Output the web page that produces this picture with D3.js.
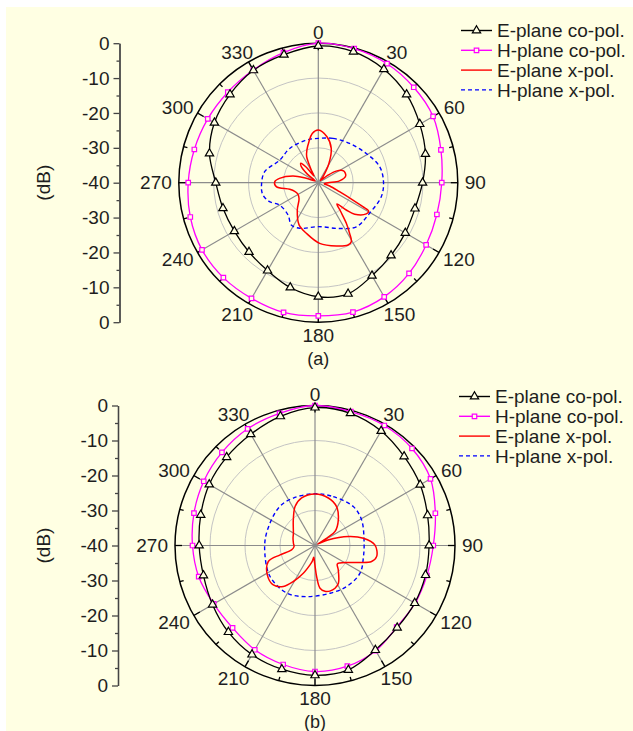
<!DOCTYPE html>
<html><head><meta charset="utf-8">
<script src="https://cdn.jsdelivr.net/npm/d3@7"></script>
<style>
body{margin:0;background:#fff}
svg{display:block}
text{font-family:"Liberation Sans",Arial,Helvetica,sans-serif}
</style>
</head><body>
<svg id="chart" width="633" height="731"></svg>
<script>
// ---------- data ----------
const coAngles = [0,15,30,45,60,75,90,105,120,135,150,165,180,195,210,225,240,255,270,285,300,315,330,345];

// panel (a)
const aEco = [-0.8,-1.1,-2.4,-4.2,-6.4,-8.2,-10.1,-11.3,-11.2,-10.5,-9.2,-7.0,-7.3,-8.9,-10.9,-11.9,-12.2,-11.7,-10.6,-7.7,-5.6,-4.2,-2.8,-2.0];
const aHco = [0,-0.2,-0.6,-1.3,-2.0,-3.6,-4.6,-4.8,-4.3,-3.2,-2.2,-1.6,-1.8,-1.5,-1.7,-1.5,-1.5,-2.0,-2.7,-3.2,-3.4,-3.3,-2.7,-1.4];
const aExAngles = [0,10.7,20.7,28.9,38,45,52,57,65,76,85,90,100,106,113,116.6,118.3,119.5,123,130.8,134.3,138.8,142,145.4,148.3,150.8,154.5,164,178.7,193.3,204.5,217.5,230,240.9,250,256.9,264.6,271.3,276.4,284.7,290,300,308,314,318,322,327,331,336,341,347,353];
const aExVals = [-24.9,-26.6,-29.5,-33.7,-37.8,-39.1,-36.6,-33.9,-32.0,-31.9,-33.9,-37.2,-38.3,-36.6,-33.4,-28.9,-25.5,-23.4,-23.6,-26.2,-28.8,-31.9,-29.7,-25.8,-22.9,-20.6,-20.2,-21.1,-22.6,-25.1,-26.7,-30.1,-32.8,-33.3,-32.8,-31.6,-27.9,-27.5,-28.8,-32.5,-36.3,-38.9,-36.0,-33.1,-32.5,-34.3,-37.7,-36.0,-31.8,-30.0,-28.0,-25.8];
const aHxAngles = [0,18.3,38.5,58.6,75.4,89.4,102.5,120.9,139.2,155,180,202,212.5,223,240,248.7,258,267.7,281.6,300.4,320.1,344.3];
const aHxVals = [-27.3,-26.6,-25.6,-23.9,-21.8,-21.3,-21.5,-22.9,-23.3,-25.5,-27.4,-25.9,-25.6,-27.3,-27.2,-25.0,-23.7,-23.7,-24.3,-27.2,-27.2,-27.3];

// panel (b)
const bEco = [-0.6,-0.9,-2.2,-4.0,-5.3,-6.7,-7.4,-7.3,-7.1,-6.8,-5.5,-3.2,-2.9,-3.4,-4.0,-5.0,-6.2,-7.0,-6.9,-6.2,-5.1,-4.3,-3.3,-1.8];
const bHco = [0,-0.4,-0.4,-0.8,-1.9,-4.4,-6.2,-6.9,-7.0,-7.0,-5.3,-4.3,-4.0,-4.8,-5.6,-6.7,-6.6,-5.6,-5.0,-4.2,-3.3,-2.4,-1.5,-0.9];
const bExAngles = [0,15.7,29,42.3,55,58,62,67,74.9,81.4,89.4,100,105.8,112,118,125,130,136.2,148.2,154.9,162,167.7,173.3,177,181,186,190,194.5,202.9,211,217.7,226.6,238.4,251.1,255,259.5,267,276,288,299.6,310,319.8,332.9,344.3];
const bExVals = [-25.3,-25.9,-27.3,-30.1,-33.0,-36.0,-39.1,-36.0,-30.1,-26.0,-22.9,-22.1,-23.2,-27.1,-29.7,-31.3,-31.7,-30.4,-27.3,-26.5,-26.3,-26.6,-27.7,-31.1,-34.9,-36.6,-35.4,-34.3,-31.4,-28.0,-25.2,-23.6,-24.0,-25.9,-29.7,-33.2,-34.0,-33.8,-33.4,-32.9,-31.9,-30.4,-27.5,-25.9];
const bHxAngles = [0,20.5,44.5,61.2,83.4,102.8,121.6,142.3,162.5,189.3,210.7,235.4,261.3,284.3,317,335.4];
const bHxVals = [-25.2,-25.1,-24.4,-24.8,-25.9,-25.8,-24.9,-25.2,-25.7,-25.2,-24.2,-24.4,-25.5,-25.7,-25.0,-25.1];

const angleLabels = [0,30,60,90,120,150,180,210,240,270,300,330];
const tickAngles = [0,15,30,45,60,75,90,105,120,135,150,165,180,195,210,225,240,255,270,285,300,315,330,345];
const gridLevels = [-10,-20,-30];
const dbMajor = [40,30,20,10,0,-10,-20,-30,-40];   // signed position along the vertical axis
const dbMinor = [35,25,15,5,-5,-15,-25,-35];
const seriesNames = ["E-plane co-pol.","H-plane co-pol.","E-plane x-pol.","H-plane x-pol."];
const captions = ["(a)","(b)"];

// ---------- layout / style ----------
const BG = "#FFFFE3";
const TXT = "#1e1e1e";
const FS = 19;
const panels = [
  {cx:318.3, cy:182.7, R:139.5, axisX:119.5, capY:358.5, legX:461, legY:30.5,
   eco:aEco, hco:aHco, exA:aExAngles, exV:aExVals, hxA:aHxAngles, hxV:aHxVals, cap:captions[0]},
  {cx:315, cy:545.5, R:140, axisX:118, capY:721.5, legX:459, legY:396.5,
   eco:bEco, hco:bHco, exA:bExAngles, exV:bExVals, hxA:bHxAngles, hxV:bHxVals, cap:captions[1]}
];

const svg = d3.select("#chart");
svg.append("rect").attr("x",6).attr("y",7).attr("width",633-6).attr("height",731-7).attr("fill",BG);

const rad = d => d*Math.PI/180;

function drawPanel(P){
  const g = svg.append("g");
  const r = d3.scaleLinear().domain([-40,0]).range([0,P.R]).clamp(true);
  const c = g.append("g").attr("transform",`translate(${P.cx},${P.cy})`);

  // grid circles
  c.selectAll("circle.grid").data(gridLevels).join("circle")
    .attr("r", d=>r(d)).attr("fill","none").attr("stroke","#c4c4c4").attr("stroke-width",1);
  // spokes
  c.selectAll("line.spoke").data(angleLabels).join("line")
    .attr("x1",0).attr("y1",0)
    .attr("x2",d=>r(0)*Math.sin(rad(d))).attr("y2",d=>-r(0)*Math.cos(rad(d)))
    .attr("stroke","#8c8c8c").attr("stroke-width",1.2);
  // outer circle
  c.append("circle").attr("r",r(0)).attr("fill","none").attr("stroke","#000").attr("stroke-width",1.5);
  // ticks (inward)
  c.selectAll("line.tick").data(tickAngles).join("line")
    .attr("x1",d=>r(0)*Math.sin(rad(d))).attr("y1",d=>-r(0)*Math.cos(rad(d)))
    .attr("x2",d=>(r(0)-(d%30===0?7:4))*Math.sin(rad(d)))
    .attr("y2",d=>-(r(0)-(d%30===0?7:4))*Math.cos(rad(d)))
    .attr("stroke","#000").attr("stroke-width",1.3);

  // angle labels
  const lab = c.selectAll("text.ang").data(angleLabels).join("text")
    .attr("font-size",FS).attr("fill",TXT).attr("text-anchor","middle")
    .attr("dy","0.35em").text(d=>d);
  lab.each(function(d){
    const w = this.getComputedTextLength();
    const s = Math.sin(rad(d)), co = Math.cos(rad(d));
    const h = co > 0 ? 8 : 12;
    const rr = r(0)+7;
    d3.select(this).attr("x", rr*s + s*w/2).attr("y", -rr*co - co*h/2);
  });

  // curves
  const line = d3.lineRadial().angle(d=>rad(d[0])).radius(d=>r(d[1]))
    .curve(d3.curveCatmullRomClosed.alpha(0.5));
  const hx = P.hxA.map((a,i)=>[a,P.hxV[i]]);
  const ex = P.exA.map((a,i)=>[a,P.exV[i]]);
  const hco = coAngles.map((a,i)=>[a,P.hco[i]]);
  const eco = coAngles.map((a,i)=>[a,P.eco[i]]);
  c.append("path").datum(hx).attr("d",line).attr("fill","none")
    .attr("stroke","#0000FF").attr("stroke-width",1.4).attr("stroke-dasharray","4,3");
  c.append("path").datum(ex).attr("d",line).attr("fill","none")
    .attr("stroke","#FF0000").attr("stroke-width",1.5);
  c.append("path").datum(hco).attr("d",line).attr("fill","none")
    .attr("stroke","#FF00FF").attr("stroke-width",1.3);
  c.append("path").datum(eco).attr("d",line).attr("fill","none")
    .attr("stroke","#000").attr("stroke-width",1.3);

  const sq = d3.symbol().type(d3.symbolSquare).size(20);
  const tri = d3.symbol().type(d3.symbolTriangle).size(30);
  c.selectAll("path.sq").data(hco).join("path")
    .attr("transform",d=>`translate(${r(d[1])*Math.sin(rad(d[0]))},${-r(d[1])*Math.cos(rad(d[0]))})`)
    .attr("d",sq).attr("fill",BG).attr("stroke","#FF00FF").attr("stroke-width",1.2);
  c.selectAll("path.tri").data(eco).join("path")
    .attr("transform",d=>`translate(${r(d[1])*Math.sin(rad(d[0]))},${-r(d[1])*Math.cos(rad(d[0]))})`)
    .attr("d",tri).attr("fill",BG).attr("stroke","#000").attr("stroke-width",1.2);

  // left dB axis
  const y = d3.scaleLinear().domain([40,-40]).range([P.cy-P.R, P.cy+P.R]);
  const ax = g.append("g").attr("transform",`translate(${P.axisX},0)`)
    .call(d3.axisLeft(y).tickValues(dbMajor).tickFormat(v=>String(Math.abs(v)-40))
      .tickSize(6).tickPadding(4).tickSizeOuter(0));
  const axm = g.append("g").attr("transform",`translate(${P.axisX},0)`)
    .call(d3.axisLeft(y).tickValues(dbMinor).tickFormat("").tickSize(3).tickSizeOuter(0));
  [ax,axm].forEach(a=>{
    a.selectAll("path,line").attr("stroke","#444").attr("stroke-width",1.3);
  });
  ax.selectAll("text").attr("font-size",FS).attr("fill",TXT)
    .attr("font-family",'"Liberation Sans",Arial,sans-serif');
  g.append("text").attr("transform",`translate(43,${P.cy}) rotate(-90)`)
    .attr("text-anchor","middle").attr("dy","0.35em").attr("font-size",FS).attr("fill",TXT)
    .text("(dB)");

  // caption
  g.append("text").attr("x",P.cx).attr("y",P.capY).attr("dy","0.35em")
    .attr("text-anchor","middle").attr("font-size",18).attr("fill",TXT).text(P.cap);

  // legend
  const styles = [
    {stroke:"#000", dash:null, sym:tri},
    {stroke:"#FF00FF", dash:null, sym:sq},
    {stroke:"#FF0000", dash:null, sym:null},
    {stroke:"#0000FF", dash:"4,3", sym:null}
  ];
  const lg = g.append("g");
  seriesNames.forEach((name,i)=>{
    const yy = P.legY + i*19.8;
    const st = styles[i];
    lg.append("line").attr("x1",P.legX).attr("x2",P.legX+31).attr("y1",yy).attr("y2",yy)
      .attr("stroke",st.stroke).attr("stroke-width",1.4).attr("stroke-dasharray",st.dash);
    if(st.sym){
      lg.append("path").attr("transform",`translate(${P.legX+15.5},${yy})`).attr("d",st.sym)
        .attr("fill",BG).attr("stroke",st.stroke).attr("stroke-width",1.2);
    }
    lg.append("text").attr("x",P.legX+36).attr("y",yy).attr("dy","0.35em")
      .attr("font-size",FS).attr("fill",TXT).text(name);
  });
}

panels.forEach(drawPanel);
</script>
</body></html>
